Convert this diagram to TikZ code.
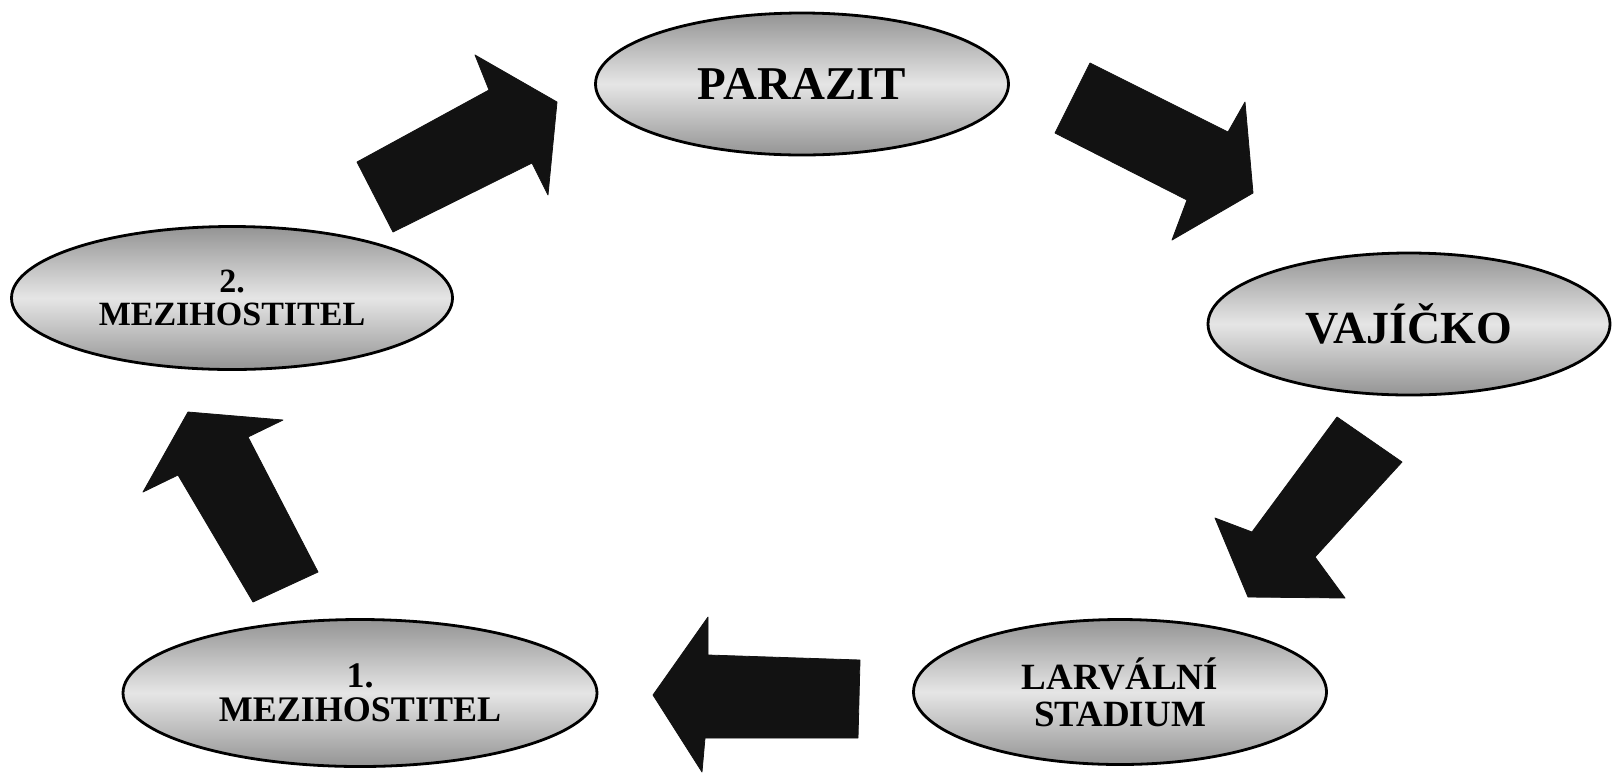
\documentclass[tikz,border=0pt]{standalone}
\usepackage{fontspec}
\setmainfont{Liberation Serif}
\usetikzlibrary{shapes.geometric}
\tikzset{
  stage/.style={ellipse, draw=black, line width=1.4pt, inner sep=0pt,
    top color=black!42, bottom color=black!42, middle color=black!10,
    font=\bfseries, align=center},
  blockarrow/.style={fill=black!93, draw=black!93, line width=0.4pt, line join=round}
}
\begin{document}
\begin{tikzpicture}[x=0.5pt,y=-0.5pt]
\useasboundingbox (0,0) rectangle (1612,773);
\fill[white] (0,0) rectangle (1612,773);
% stages
\node[stage, minimum width=206.5pt, minimum height=71pt,
  font=\bfseries\fontsize{23.5}{24}\selectfont] (par) at (802,84) {PARAZIT};
\node[stage, minimum width=201pt, minimum height=71pt,
  font=\bfseries\fontsize{23}{24}\selectfont] (vaj) at (1409,324) {VAJÍČKO};
\node[stage, minimum width=206.5pt, minimum height=72.5pt,
  font=\bfseries\fontsize{18.5}{18.5}\selectfont] (lar) at (1120,692) {LARVÁLNÍ\\STADIUM};
\node[stage, minimum width=237pt, minimum height=73.5pt,
  font=\bfseries\fontsize{18}{17}\selectfont] (m1) at (360,693) {1.\\MEZIHOSTITEL};
\node[stage, minimum width=220.5pt, minimum height=71.5pt,
  font=\bfseries\fontsize{17}{16.5}\selectfont] (m2) at (232,298) {2.\\MEZIHOSTITEL};
% block arrows
\fill[blockarrow] (357,162) -- (489,90) -- (475,55) -- (557,102) -- (548,195) -- (532,163) -- (393,232) -- cycle;
\fill[blockarrow] (1090,63) -- (1228,132) -- (1245,102) -- (1253,193) -- (1172,240) -- (1187,200) -- (1055,133) -- cycle;
\fill[blockarrow] (1337,417) -- (1402,462) -- (1315,557) -- (1345,598) -- (1248,597) -- (1215,518) -- (1252,532) -- cycle;
\fill[blockarrow] (860,660) -- (858,738) -- (705,738) -- (702,772) -- (653,695) -- (708,617) -- (708,655) -- cycle;
\fill[blockarrow] (253,602) -- (318,572) -- (248,437) -- (283,420) -- (188,412) -- (143,492) -- (178,475) -- cycle;
\end{tikzpicture}
\end{document}
